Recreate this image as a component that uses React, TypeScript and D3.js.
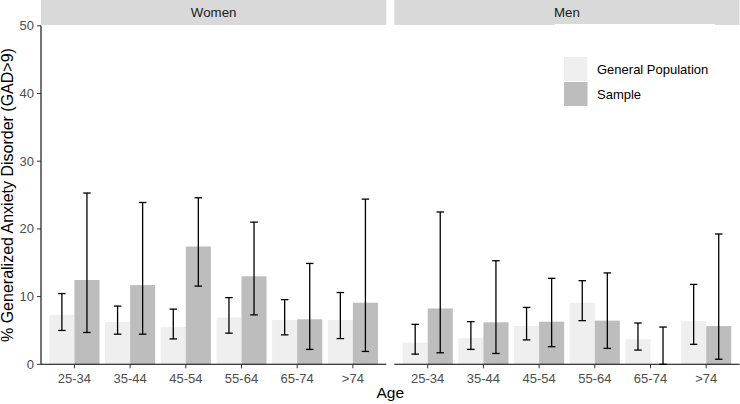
import React from "react";
import * as d3 from "d3";

const ageGroups = ["25-34", "35-44", "45-54", "55-64", "65-74", ">74"];
const panels = ["Women", "Men"];
const seriesNames = ["General Population", "Sample"];
const yTicks = [0, 10, 20, 30, 40, 50];

// Women
const womenGeneral = [7.3, 6.25, 5.5, 6.9, 6.55, 6.55];
const womenGeneralLow = [5.0, 4.45, 3.75, 4.6, 4.35, 3.8];
const womenGeneralHigh = [10.45, 8.6, 8.15, 9.85, 9.55, 10.6];
const womenSample = [12.45, 11.7, 17.4, 13.0, 6.65, 9.1];
const womenSampleLow = [4.7, 4.45, 11.55, 7.3, 2.2, 1.9];
const womenSampleHigh = [25.3, 23.9, 24.6, 21.0, 14.9, 24.4];

// Men
const menGeneral = [3.2, 3.85, 5.65, 9.1, 3.7, 6.4];
const menGeneralLow = [1.5, 2.2, 3.6, 6.45, 2.1, 2.95];
const menGeneralHigh = [5.9, 6.3, 8.4, 12.35, 6.1, 11.8];
const menSample = [8.25, 6.2, 6.3, 6.45, 0, 5.65];
const menSampleLow = [1.7, 1.6, 2.6, 2.35, 0, 0.75];
const menSampleHigh = [22.5, 15.3, 12.7, 13.5, 5.5, 19.25];

const fills = ["#EFEFEF", "#BDBDBD"];
const FONT = "'Liberation Sans', Arial, Helvetica, sans-serif";

type Row = { age: string; series: string; value: number; low: number; high: number };

function buildRows(g: number[], gl: number[], gh: number[], s: number[], sl: number[], sh: number[]): Row[] {
  const rows: Row[] = [];
  ageGroups.forEach((age, i) => {
    rows.push({ age, series: seriesNames[0], value: g[i], low: gl[i], high: gh[i] });
    rows.push({ age, series: seriesNames[1], value: s[i], low: sl[i], high: sh[i] });
  });
  return rows;
}

const panelData: Record<string, Row[]> = {
  Women: buildRows(womenGeneral, womenGeneralLow, womenGeneralHigh, womenSample, womenSampleLow, womenSampleHigh),
  Men: buildRows(menGeneral, menGeneralLow, menGeneralHigh, menSample, menSampleLow, menSampleHigh),
};

const W = 740;
const H = 404;
const panelTop = 25.8;
const panelBottom = 364.3;
const panelRanges: [number, number][] = [
  [41, 386.3],
  [394.3, 739.6],
];
const stripTop = 0;
const stripBottom = 25;

export default function App() {
  const y = d3.scaleLinear().domain([0, 50]).range([panelBottom, panelTop]);

  return (
    <svg
      width={W}
      height={H}
      style={{ position: "absolute", left: 0, top: 0, background: "#fff" }}
      fontFamily={FONT}
    >
      <rect x={0} y={0} width={W} height={H} fill="#fff" />
      {panels.map((p, pi) => {
        const [x0, x1] = panelRanges[pi];
        const x = d3.scaleBand<string>().domain(ageGroups).range([x0, x1]).paddingInner(0).paddingOuter(0.1);
        const step = x.step();
        const sub = d3
          .scaleBand<string>()
          .domain(seriesNames)
          .range([-0.45 * step, 0.45 * step])
          .padding(0);
        const bw = sub.bandwidth();
        const capW = bw * 0.3;
        const rows = panelData[p];
        return (
          <g key={p}>
            {/* strip */}
            <rect x={x0} y={stripTop} width={x1 - x0} height={stripBottom - stripTop} fill="#D9D9D9" />
            <text
              x={(x0 + x1) / 2}
              y={(stripTop + stripBottom) / 2}
              dy="0.35em"
              textAnchor="middle"
              fontSize={13.3}
              fill="#1A1A1A"
            >
              {p}
            </text>
            {/* bars */}
            {rows.map((r, i) => {
              const cx = (x(r.age) as number) + step / 2;
              const bx = cx + (sub(r.series) as number);
              return (
                <rect
                  key={"b" + i}
                  x={bx}
                  y={y(r.value)}
                  width={bw}
                  height={y(0) - y(r.value)}
                  fill={fills[seriesNames.indexOf(r.series)]}
                />
              );
            })}
            {/* error bars */}
            {rows.map((r, i) => {
              const cx = (x(r.age) as number) + step / 2;
              const ex = cx + (sub(r.series) as number) + bw / 2;
              return (
                <g key={"e" + i} stroke="#000" strokeWidth={1.3} fill="none">
                  <line x1={ex} x2={ex} y1={y(r.low)} y2={y(r.high)} />
                  <line x1={ex - capW / 2} x2={ex + capW / 2} y1={y(r.low)} y2={y(r.low)} />
                  <line x1={ex - capW / 2} x2={ex + capW / 2} y1={y(r.high)} y2={y(r.high)} />
                </g>
              );
            })}
            {/* x axis */}
            <line x1={x0} x2={x1} y1={panelBottom} y2={panelBottom} stroke="#000" strokeWidth={1.1} />
            {ageGroups.map((a) => {
              const cx = (x(a) as number) + step / 2;
              return (
                <g key={a}>
                  <line x1={cx} x2={cx} y1={panelBottom} y2={panelBottom + 4} stroke="#333" strokeWidth={1} />
                  <text x={cx} y={panelBottom + 18.7} textAnchor="middle" fontSize={13} fill="#4D4D4D">
                    {a}
                  </text>
                </g>
              );
            })}
            {pi === 0 && (
              <g>
                <line x1={x0} x2={x0} y1={panelTop} y2={panelBottom} stroke="#000" strokeWidth={1.1} />
                {yTicks.map((t) => (
                  <g key={t}>
                    <line x1={x0 - 4} x2={x0} y1={y(t)} y2={y(t)} stroke="#333" strokeWidth={1} />
                    <text x={x0 - 7} y={y(t)} dy="0.35em" textAnchor="end" fontSize={13} fill="#4D4D4D">
                      {t}
                    </text>
                  </g>
                ))}
              </g>
            )}
          </g>
        );
      })}
      {/* axis titles */}
      <text x={(panelRanges[0][0] + panelRanges[1][1]) / 2} y={398} textAnchor="middle" fontSize={15.5} fill="#000">
        Age
      </text>
      <text
        transform={`translate(13,${(panelTop + panelBottom) / 2}) rotate(-90)`}
        textAnchor="middle"
        fontSize={16}
        fill="#000"
      >
        % Generalized Anxiety Disorder (GAD&gt;9)
      </text>
      {/* legend */}
      <g>
        <rect x={555} y={24} width={160} height={90} fill="#fff" />
        {seriesNames.map((s, i) => (
          <g key={s}>
            <rect x={564} y={57 + i * 25} width={23.5} height={24} fill={fills[i]} />
            <text x={597} y={69 + i * 25} dy="0.35em" fontSize={13} fill="#000">
              {s}
            </text>
          </g>
        ))}
      </g>
    </svg>
  );
}
